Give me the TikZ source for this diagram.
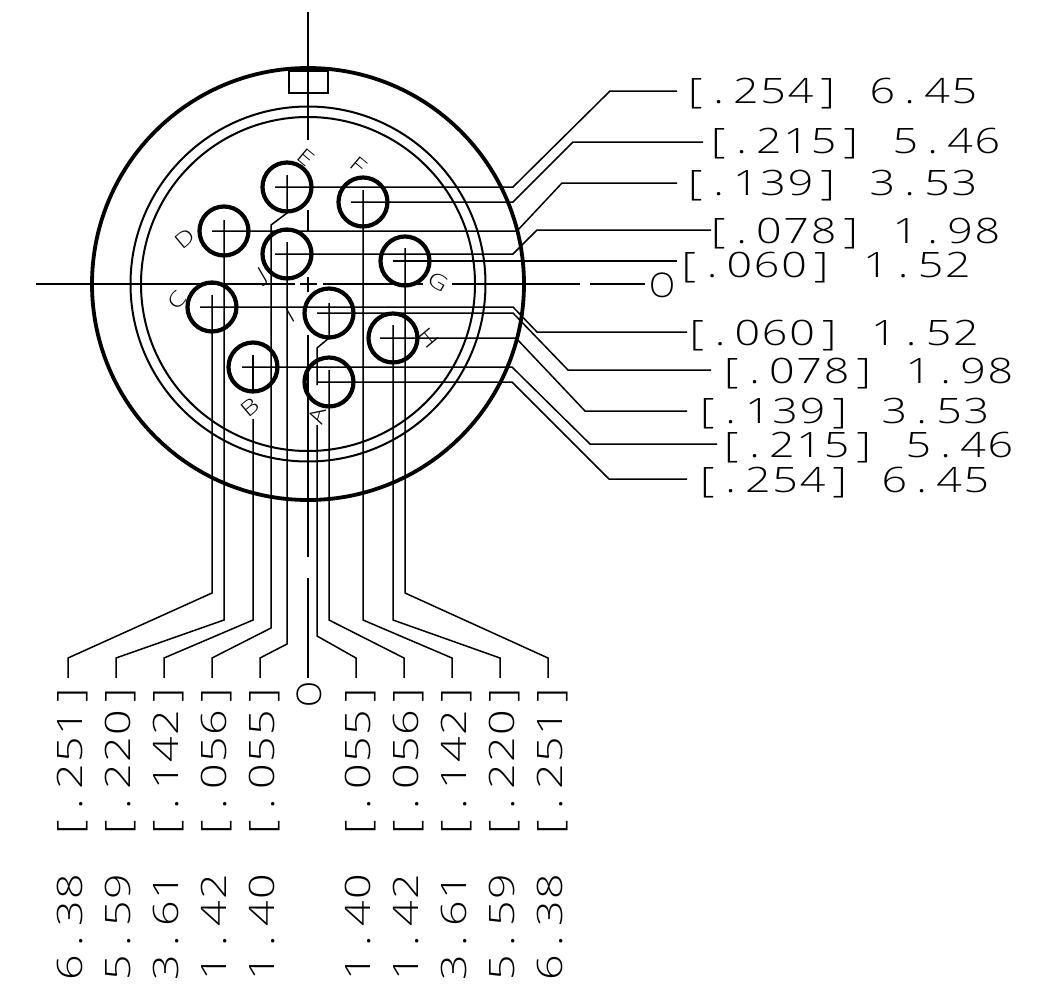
\documentclass[tikz,border=0pt]{standalone}
\usepackage{fontspec}
\newfontfamily\cadfont[FakeStretch=1.28]{Open Sans Light}
\newfontfamily\cadplain{Open Sans Light}
\makeatletter
\def\cad@lb{[}
\newcommand{\cadchars}[1]{\@tfor\cad@c:=#1\do{\hbox to 27.3pt{\hss\ifx\cad@c\cad@lb\kern8pt\fi\cad@c\hss}}}
\makeatother
\tikzset{
  x=1pt,y=-1pt,
  thinline/.style={line width=1.5pt},
  midline/.style={line width=2pt},
  outerline/.style={line width=3.8pt},
  pin/.style={circle,draw,line width=4.2pt,minimum size=49pt,inner sep=0pt,outer sep=0pt},
  dimh/.style={anchor=base west,inner sep=0pt,font=\cadfont\fontsize{35}{35}\selectfont},
  dimv/.style={anchor=base west,rotate=90,inner sep=0pt,font=\cadfont\fontsize{35}{35}\selectfont},
  zeroh/.style={anchor=base,inner sep=0pt,font=\cadplain\fontsize{34}{34}\selectfont},
  letter/.style={inner sep=0pt,font=\cadfont\fontsize{21}{21}\selectfont},
}
\begin{document}
\begin{tikzpicture}
\useasboundingbox (0,0) rectangle (1037,997);
% body
\coordinate (c0) at (308,284);
\draw[outerline] (c0) circle[radius=216pt];
\draw[midline] (c0) circle[radius=177.5pt];
\draw[midline] (c0) circle[radius=167pt];
\draw[thinline] (289,71) rectangle (328,93);
% pins
\node[pin] (pE) at (287,187) {};
\node[pin] (pF) at (363,202) {};
\node[pin] (pD) at (224,231) {};
\node[pin] (pJ) at (287,254) {};
\node[pin] (pG) at (405,261) {};
\node[pin] (pC) at (212,307) {};
\node[pin] (pI) at (329,313) {};
\node[pin] (pH) at (393,338) {};
\node[pin] (pB) at (253,367) {};
\node[pin] (pA) at (329,382) {};
% pin letters
\node[letter,rotate=-40] (tE) at (306,158) {E};
\node[letter,rotate=-40] (tF) at (358,165) {F};
\node[letter,rotate=40] (tD) at (185,239) {D};
\node[letter,rotate=30] (tJ) at (263,276) {J};
\node[letter,rotate=-30] (tG) at (438,282) {G};
\node[letter,rotate=50] (tC) at (177,300) {C};
\node[letter,rotate=30] (tI) at (290,315) {I};
\node[letter,rotate=-50] (tH) at (428,338) {H};
\node[letter,rotate=40] (tB) at (250,407) {B};
\node[letter,rotate=75] (tA) at (317,416) {A};
% centre lines
\draw[thinline] (308,12) -- (308,140);
\draw[thinline] (308,210) -- (308,232);
\draw[thinline] (308,277) -- (308,292);
\draw[thinline] (308,335) -- (308,557);
\draw[thinline] (36,284) -- (295,284);
\draw[thinline] (300,284) -- (317,284);
\draw[thinline] (323,284) -- (423,284);
\draw[thinline] (452,284) -- (580,284);
\draw[thinline] (590,284) -- (645,284);
\coordinate (bO) at (308,678);
\draw[thinline] (308,578) -- (bO);
% right dimension labels
\node[dimh] (r1) at (677.5,103) {\cadchars{[.254]~6.45}};
\node[dimh] (r2) at (700.5,153) {\cadchars{[.215]~5.46}};
\node[dimh] (r3) at (677.5,195) {\cadchars{[.139]~3.53}};
\node[dimh] (r4) at (700.5,243) {\cadchars{[.078]~1.98}};
\node[dimh] (r5) at (671,277) {\cadchars{[.060]~1.52}};
\node[dimh] (r6) at (679,345) {\cadchars{[.060]~1.52}};
\node[dimh] (r7) at (713.5,383) {\cadchars{[.078]~1.98}};
\node[dimh] (r8) at (689.5,423) {\cadchars{[.139]~3.53}};
\node[dimh] (r9) at (713.5,457) {\cadchars{[.215]~5.46}};
\node[dimh] (r10) at (689.5,492) {\cadchars{[.254]~6.45}};
\node[zeroh] (rO) at (662,297) {O};
% bottom dimension labels
\node[dimv] (b1) at (82,982) {\cadchars{6.38~[.251]}};
\node[dimv] (b2) at (130,982) {\cadchars{5.59~[.220]}};
\node[dimv] (b3) at (178,982) {\cadchars{3.61~[.142]}};
\node[dimv] (b4) at (226,982) {\cadchars{1.42~[.056]}};
\node[dimv] (b5) at (274,982) {\cadchars{1.40~[.055]}};
\node[dimv] (b6) at (370,982) {\cadchars{1.40~[.055]}};
\node[dimv] (b7) at (418,982) {\cadchars{1.42~[.056]}};
\node[dimv] (b8) at (466,982) {\cadchars{3.61~[.142]}};
\node[dimv] (b9) at (514,982) {\cadchars{5.59~[.220]}};
\node[dimv] (b10) at (562,982) {\cadchars{6.38~[.251]}};
\node[zeroh,rotate=90] (bOt) at (321,694) {O};
% right leaders
\coordinate (e1) at (677,91);  \coordinate (e2) at (703,142);
\coordinate (e3) at (677,183); \coordinate (e4) at (711,230);
\coordinate (e5) at (677,261); \coordinate (e6) at (687,332);
\coordinate (e7) at (711,370); \coordinate (e8) at (687,411);
\coordinate (e9) at (717,444); \coordinate (e10) at (687,479);
\draw[thinline] ([xshift=-12pt]pE.center) -- (513,187) -- (610,91) -- (e1);
\draw[thinline] ([xshift=-12pt]pF.center) -- (513,202) -- (573,142) -- (e2);
\draw[thinline] ([xshift=-12pt]pD.center) -- (517,231) -- (562,183) -- (e3);
\draw[thinline] ([xshift=-12pt]pJ.center) -- (513,254) -- (537,230) -- (e4);
\draw[thinline] ([xshift=-12pt]pG.center) -- (e5);
\draw[thinline] ([xshift=-12pt]pC.center) -- (513,307) -- (537,332) -- (e6);
\draw[thinline] ([xshift=-12pt]pI.center) -- (513,313) -- (568,370) -- (e7);
\draw[thinline] ([xshift=-13pt]pH.center) -- (516,338) -- (585,411) -- (e8);
\draw[thinline] ([xshift=-11pt]pB.center) -- (512,367) -- (590,444) -- (e9);
\draw[thinline] ([xshift=-12pt]pA.center) -- (512,382) -- (609,479) -- (e10);
% bottom leaders
\coordinate (f1) at (68,678);   \coordinate (f2) at (116,678);
\coordinate (f3) at (164,678);  \coordinate (f4) at (212,678);
\coordinate (f5) at (260,678);  \coordinate (f6) at (356,678);
\coordinate (f7) at (404,678);  \coordinate (f8) at (452,678);
\coordinate (f9) at (500,678);  \coordinate (f10) at (548,678);
\draw[thinline] ([yshift=12pt]pC.center) -- (212,593) -- (68,658) -- (f1);
\draw[thinline] ([yshift=11pt]pD.center) -- (224,620) -- (116,658) -- (f2);
\draw[thinline] ([yshift=12pt]pB.center) -- (253,390);
\draw[thinline] (253,419) -- (253,620) -- (164,658) -- (f3);
\draw[thinline] ([yshift=12pt]pE.center) -- (287,213) -- (271,225) -- (271,628) -- (212,658) -- (f4);
\draw[thinline] ([yshift=12pt]pJ.center) -- (287,644) -- (260,658) -- (f5);
\draw[thinline] ([yshift=10pt]pI.center) -- (329,338) -- (317,348) -- (317,385);
\draw[thinline] (317,425) -- (317,636) -- (356,658) -- (f6);
\draw[thinline] ([yshift=12pt]pA.center) -- (329,620) -- (404,658) -- (f7);
\draw[thinline] ([yshift=12pt]pF.center) -- (363,620) -- (452,658) -- (f8);
\draw[thinline] ([yshift=13pt]pH.center) -- (393,620) -- (500,658) -- (f9);
\draw[thinline] ([yshift=13pt]pG.center) -- (405,593) -- (548,658) -- (f10);
\end{tikzpicture}
\end{document}
